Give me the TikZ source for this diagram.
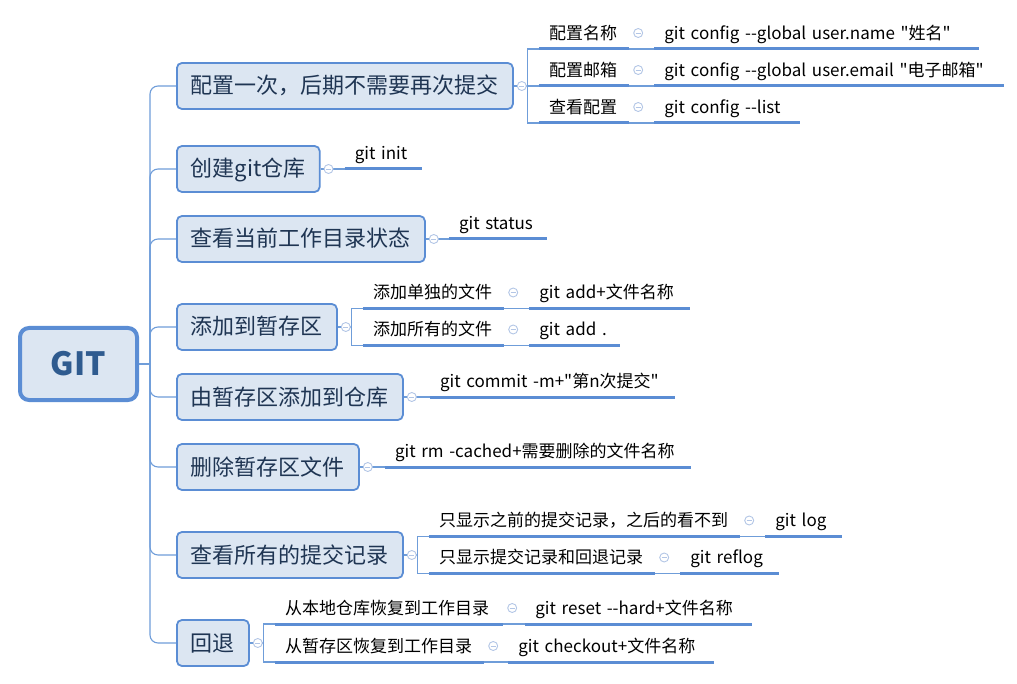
\documentclass[tikz,border=0pt]{standalone}
\usepackage{fontspec}
\setmainfont{Noto Sans CJK SC}[Ligatures=TeXOff]
\usetikzlibrary{positioning}
\definecolor{boxfill}{HTML}{DCE6F2}
\definecolor{boxline}{HTML}{5B8DD4}
\definecolor{lineblue}{HTML}{6F9DD9}
\definecolor{foldline}{HTML}{B3C6E6}
\definecolor{navy}{HTML}{1F3553}
\definecolor{gitblue}{HTML}{2F5B8F}

\begin{document}
\begin{tikzpicture}[x=1pt,y=-1pt,
    root node/.style={draw=boxline,line width=4pt,fill=boxfill,rounded corners=9pt,minimum width=117pt,minimum height=72pt,text=gitblue,font=\fontsize{32pt}{36pt}\selectfont\bfseries},
    main node/.style={anchor=west,draw=boxline,line width=1.8pt,fill=boxfill,rounded corners=5pt,inner xsep=14pt,minimum height=46pt,text height=18pt,text depth=2pt,text=navy,font=\fontsize{22pt}{26pt}\selectfont},
    leaf/.style={anchor=south west,text width=#1,align=left,inner xsep=10pt,inner ysep=5.5pt,text height=13pt,text depth=4pt,font=\fontsize{17pt}{20pt}\selectfont},
    link/.style={draw=lineblue,line width=1.1pt},
    uline/.style={draw=boxline,line width=3pt},
    fold/.style={circle,draw=foldline,fill=white,line width=0.9pt,inner sep=0pt,minimum size=9pt,path picture={\draw[foldline,line width=0.9pt] ([xshift=-2.5pt]path picture bounding box.center) -- ([xshift=2.5pt]path picture bounding box.center);}}]
    \useasboundingbox (0,0) rectangle (1017,684);

    \node[root node] (git) at (78.5,364) {GIT};
    \coordinate (trunk) at (150,364);

    \foreach \n/\y/\t in {1/86/配置一次，后期不需要再次提交, 2/169/创建git仓库, 3/239/查看当前工作目录状态, 4/327/添加到暂存区, 5/397/由暂存区添加到仓库, 6/467/删除暂存区文件, 7/555/查看所有的提交记录, 8/643/回退}
        \node[main node] (b\n) at (176,\y) {\t};

    \node[leaf=70pt] (c11) at ([xshift=25pt,yshift=37pt]b1.east) {配置名称};
    \node[leaf=70pt] (c12) at ([xshift=25pt]b1.east) {配置邮箱};
    \node[leaf=70pt] (c13) at ([xshift=25pt,yshift=-37pt]b1.east) {查看配置};
    \node[leaf=304pt] (c11x) at ([xshift=25pt]c11.south east) {git config --global user.name "姓名"};
    \node[leaf=329pt] (c12x) at ([xshift=25pt]c12.south east) {git config --global user.email "电子邮箱"};
    \node[leaf=125pt] (c13x) at ([xshift=25pt]c13.south east) {git config --list};

    \node[leaf=57pt] (b2x) at ([xshift=24pt]b2.east) {git init};
    \node[leaf=78pt] (b3x) at ([xshift=23pt]b3.east) {git status};

    \node[leaf=121pt] (c41) at ([xshift=25pt,yshift=18.5pt]b4.east) {添加单独的文件};
    \node[leaf=121pt] (c42) at ([xshift=25pt,yshift=-18.5pt]b4.east) {添加所有的文件};
    \node[leaf=140pt] (c41x) at ([xshift=25pt]c41.south east) {git add+文件名称};
    \node[leaf=70pt] (c42x) at ([xshift=25pt]c42.south east) {git add .};

    \node[leaf=225pt] (b5x) at ([xshift=26pt]b5.east) {git commit -m+"第n次提交"};
    \node[leaf=286pt] (b6x) at ([xshift=25pt]b6.east) {git rm -cached+需要删除的文件名称};

    \node[leaf=291pt] (c71) at ([xshift=25pt,yshift=18.5pt]b7.east) {只显示之前的提交记录，之后的看不到};
    \node[leaf=206pt] (c72) at ([xshift=25pt,yshift=-18.5pt]b7.east) {只显示提交记录和回退记录};
    \node[leaf=56pt] (c71x) at ([xshift=25pt]c71.south east) {git log};
    \node[leaf=78pt] (c72x) at ([xshift=25pt]c72.south east) {git reflog};

    \node[leaf=208pt] (c81) at ([xshift=25pt,yshift=19pt]b8.east) {从本地仓库恢复到工作目录};
    \node[leaf=189pt] (c82) at ([xshift=25pt,yshift=-19pt]b8.east) {从暂存区恢复到工作目录};
    \node[leaf=206pt] (c81x) at ([xshift=22pt]c81.south east) {git reset --hard+文件名称};
    \node[leaf=185pt] (c82x) at ([xshift=24pt]c82.south east) {git checkout+文件名称};

    \draw[link] (git) -- (trunk);
    \foreach \n in {1,...,8}
        \draw[link,rounded corners=8pt] (trunk) |- (b\n.west);
    \foreach \b/\c in {b1/c11,b1/c12,b1/c13,b4/c41,b4/c42,b7/c71,b7/c72,b8/c81,b8/c82}
        \draw[link] (\b.east) -- ++(14pt,0) |- (\c.south west);
    \foreach \b in {b2,b3,b5,b6}
        \draw[link] (\b.east) -- (\b x.south west);
    \foreach \a/\b in {c11/c11x,c12/c12x,c13/c13x,c41/c41x,c42/c42x,c71/c71x,c72/c72x,c81/c81x,c82/c82x}
        \draw[link] (\a.south east) -- (\b.south west);

    \foreach \s in {c11,c12,c13,c11x,c12x,c13x,b2x,b3x,c41,c42,c41x,c42x,b5x,b6x,c71,c72,c71x,c72x,c81,c82,c81x,c82x}
        \draw[uline] (\s.south west) -- (\s.south east);

    \foreach \n in {1,...,8}
        \node[fold] (fb\n) at ([xshift=8pt]b\n.east) {};
    \foreach \s in {c11,c12,c13,c41,c42,c71,c72,c81,c82}
        \node[fold] (f\s) at ([xshift=9pt,yshift=16pt]\s.south east) {};
\end{tikzpicture}
\end{document}
